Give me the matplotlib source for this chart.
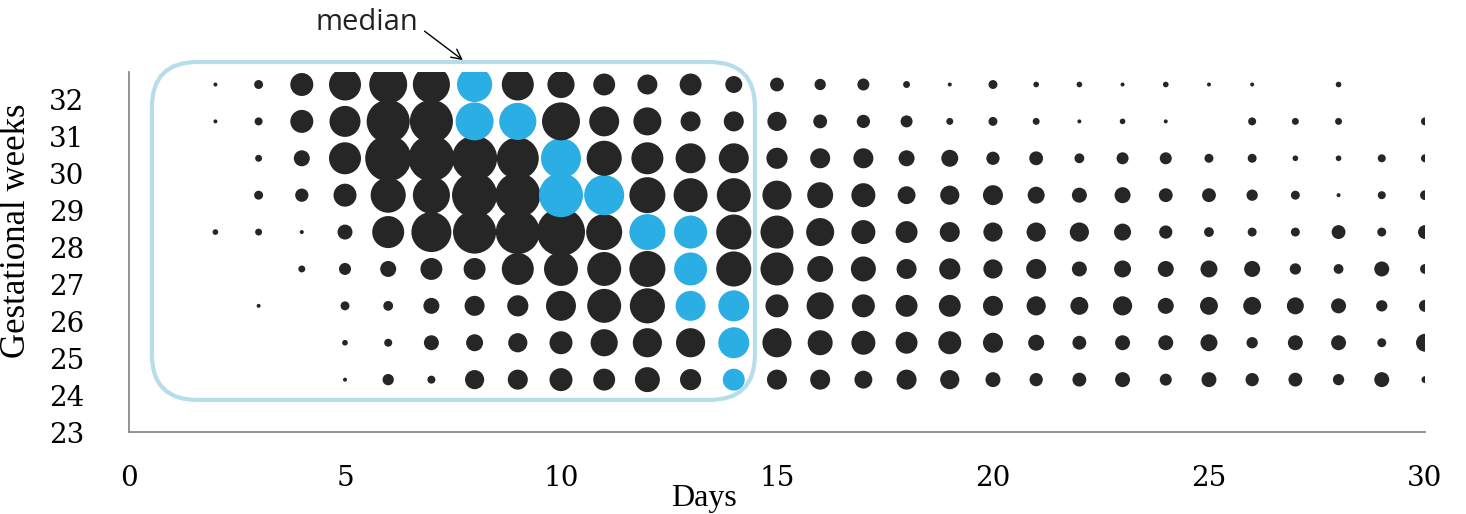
import matplotlib.pyplot as plt
import numpy as np
from matplotlib.patches import FancyBboxPatch

# counts per day (1..30) for each gestational week
days = np.arange(1, 31)
weeks = [24, 25, 26, 27, 28, 29, 30, 31, 32]

counts = {
    32: [0, 1, 5, 33, 64, 90, 86, 77, 64, 46, 30, 25, 30, 18, 12, 8, 9, 3, 1, 5, 2, 2, 1, 2, 1, 1, 0, 2, 0, 0],
    31: [0, 1, 4, 33, 60, 116, 116, 90, 86, 90, 56, 49, 25, 25, 23, 12, 11, 9, 3, 5, 3, 1, 2, 1, 0, 4, 3, 3, 0, 4],
    30: [0, 0, 3, 16, 64, 132, 132, 127, 110, 100, 77, 64, 56, 56, 28, 25, 25, 16, 18, 11, 12, 6, 9, 9, 5, 5, 2, 2, 4, 4],
    29: [0, 0, 5, 11, 33, 77, 86, 127, 127, 121, 100, 81, 72, 72, 53, 42, 36, 20, 23, 25, 18, 14, 16, 12, 12, 8, 5, 1, 4, 6],
    28: [0, 2, 3, 1, 14, 64, 100, 116, 121, 144, 81, 81, 68, 77, 68, 49, 36, 30, 25, 23, 23, 23, 18, 11, 6, 5, 5, 12, 5, 12],
    27: [0, 0, 0, 3, 9, 16, 30, 30, 64, 72, 72, 81, 68, 77, 68, 42, 39, 25, 28, 23, 25, 14, 18, 16, 18, 16, 8, 6, 14, 6],
    26: [0, 0, 1, 0, 5, 6, 16, 25, 28, 56, 72, 77, 56, 60, 33, 46, 33, 30, 30, 25, 23, 20, 23, 16, 20, 20, 18, 14, 8, 9],
    25: [0, 0, 0, 0, 2, 4, 14, 18, 23, 33, 46, 53, 53, 60, 53, 39, 36, 30, 33, 25, 16, 12, 14, 14, 18, 8, 14, 14, 5, 20],
    24: [0, 0, 0, 0, 1, 8, 4, 23, 25, 33, 30, 39, 28, 30, 25, 25, 20, 25, 23, 14, 11, 12, 14, 9, 14, 11, 12, 8, 14, 3],
}

# median day(s) per week, highlighted in blue
median_days = {
    24: [14], 25: [14], 26: [13, 14], 27: [13], 28: [12, 13],
    29: [10, 11], 30: [10], 31: [8, 9], 32: [8],
}

x_ticks = [0, 5, 10, 15, 20, 25, 30]
y_ticks = [23, 24, 25, 26, 27, 28, 29, 30, 31, 32]

dark = '#262626'
blue = '#2AAEE3'
box_color = '#B5DEEA'
tick_font = 'DejaVu Serif'
label_font = 'Liberation Serif'

fig = plt.figure(figsize=(14.66, 5.14), dpi=100)
ax = fig.add_axes([0.088, 0.1595, 0.884, 0.7005])

row_offset = 0.42
for w in weeks:
    c = np.array(counts[w], dtype=float)
    colors = [blue if d in median_days[w] else dark for d in days]
    mask = c > 0
    ax.scatter(days[mask], np.full(mask.sum(), w + row_offset),
               s=8.3 * c[mask], c=np.array(colors)[mask], linewidths=0, zorder=3)

ax.set_xlim(0, 30)
ax.set_ylim(23, 32.76)

for side in ['top', 'right']:
    ax.spines[side].set_visible(False)
for side in ['left', 'bottom']:
    ax.spines[side].set_color('#8a8a8a')
    ax.spines[side].set_linewidth(1.3)

ax.set_xticks(x_ticks)
ax.set_xticklabels([str(t) for t in x_ticks], fontsize=20, family=tick_font)
ax.set_yticks(y_ticks)
ax.set_yticklabels([str(t) for t in y_ticks], fontsize=20, family=tick_font)
ax.tick_params(axis='x', length=0, pad=24)
ax.tick_params(axis='y', length=0, pad=32)

ax.set_xlabel('Days', fontsize=23, family=label_font)
ax.xaxis.set_label_coords(0.444, -0.143)
ax.set_ylabel('Gestational weeks', fontsize=25, family=label_font)
ax.yaxis.set_label_coords(-0.074, 0.558)

# rounded box around the early part of the distribution
fig.canvas.draw()
p0 = ax.transData.transform((0, 0))
p1 = ax.transData.transform((1, 1))
aspect = (p1[0] - p0[0]) / (p1[1] - p0[1])
box = FancyBboxPatch((0.53 + 1.05, 23.87 + 1.05 * aspect), 14.49 - 0.53 - 2.1, 33.03 - 23.87 - 2.1 * aspect,
                     boxstyle='round,pad=1.05', mutation_aspect=aspect,
                     facecolor='none', edgecolor=box_color, linewidth=3,
                     clip_on=False, zorder=4)
ax.add_patch(box)

ax.annotate('median', xy=(7.73, 33.08), xytext=(5.51, 34.11),
            xycoords='data', textcoords='data', ha='center', va='center',
            fontsize=21, family='Open Sans', color='#222222', annotation_clip=False,
            arrowprops=dict(arrowstyle='->', color='black', lw=1.0, relpos=(1.0, 0.35),
                            shrinkA=3, shrinkB=0, mutation_scale=18))

fig.savefig('out.png', dpi=100)
